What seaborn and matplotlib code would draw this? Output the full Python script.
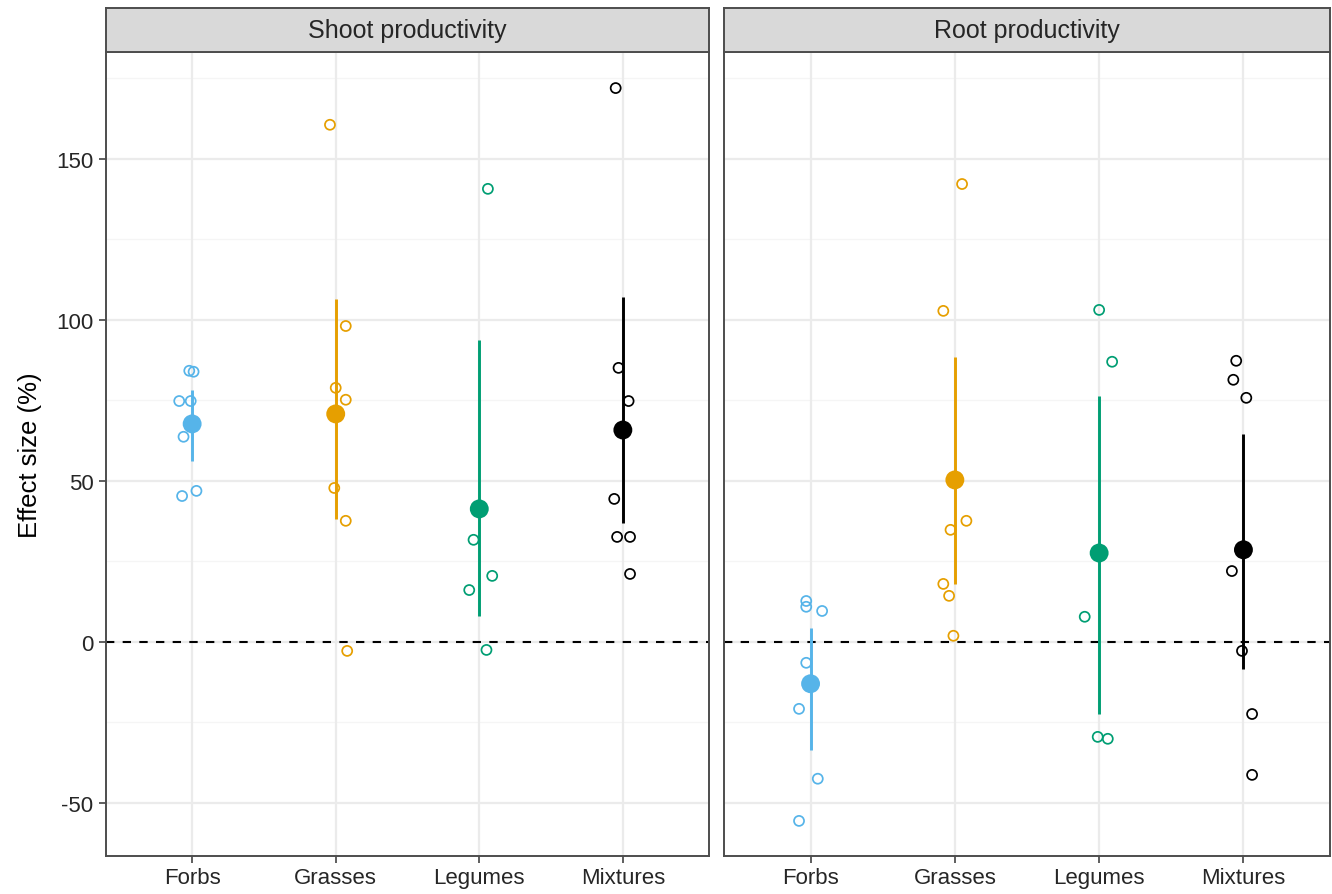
import numpy as np
import pandas as pd
import matplotlib
matplotlib.use("Agg")
import matplotlib.pyplot as plt
import seaborn as sns

sns.set_theme(style="white")
plt.rcParams["font.family"] = ["Liberation Sans", "DejaVu Sans"]

groups = ["Forbs", "Grasses", "Legumes", "Mixtures"]
facets = ["Shoot productivity", "Root productivity"]
palette = {"Forbs": "#56B4E9", "Grasses": "#E69F00", "Legumes": "#009E73", "Mixtures": "#000000"}

# Individual study effect sizes (%) with their horizontal jitter offsets
shoot_forbs = [84.2, 83.9, 74.8, 74.8, 63.7, 45.3, 46.9]
shoot_forbs_dx = [-0.02, 0.01, -0.09, -0.01, -0.06, -0.07, 0.03]
shoot_grasses = [160.6, 98.1, 78.9, 75.2, 47.8, 37.6, -2.8]
shoot_grasses_dx = [-0.04, 0.07, 0.00, 0.07, -0.01, 0.07, 0.08]
shoot_legumes = [140.7, 31.7, 20.5, 16.1, -2.5]
shoot_legumes_dx = [0.06, -0.04, 0.09, -0.07, 0.05]
shoot_mixtures = [172.0, 85.1, 74.8, 44.4, 32.6, 32.6, 21.1]
shoot_mixtures_dx = [-0.05, -0.03, 0.04, -0.06, -0.04, 0.05, 0.05]

root_forbs = [12.7, 10.9, 9.6, -6.5, -20.8, -42.5, -55.6]
root_forbs_dx = [-0.03, -0.03, 0.08, -0.03, -0.08, 0.05, -0.08]
root_grasses = [142.2, 102.8, 37.6, 34.8, 18.0, 14.3, 1.9]
root_grasses_dx = [0.05, -0.08, 0.08, -0.03, -0.08, -0.04, -0.01]
root_legumes = [103.1, 87.0, 7.8, -29.5, -30.1]
root_legumes_dx = [0.00, 0.09, -0.10, -0.01, 0.06]
root_mixtures = [87.3, 81.4, 75.8, 22.0, -2.8, -22.4, -41.3]
root_mixtures_dx = [-0.05, -0.07, 0.02, -0.08, -0.01, 0.06, 0.06]

# Overall mean effect and 95% confidence interval per group
shoot_mean = [67.7, 70.8, 41.3, 65.8]
shoot_lo = [56.2, 38.2, 8.1, 37.0]
shoot_hi = [78.3, 106.5, 93.8, 107.1]
root_mean = [-13.0, 50.3, 27.6, 28.6]
root_lo = [-33.5, 18.0, -22.4, -8.4]
root_hi = [4.3, 88.5, 76.4, 64.6]

yticks = [-50, 0, 50, 100, 150]

studies = {
    "Shoot productivity": [(shoot_forbs, shoot_forbs_dx), (shoot_grasses, shoot_grasses_dx),
                           (shoot_legumes, shoot_legumes_dx), (shoot_mixtures, shoot_mixtures_dx)],
    "Root productivity": [(root_forbs, root_forbs_dx), (root_grasses, root_grasses_dx),
                          (root_legumes, root_legumes_dx), (root_mixtures, root_mixtures_dx)],
}
summaries = {
    "Shoot productivity": (shoot_mean, shoot_lo, shoot_hi),
    "Root productivity": (root_mean, root_lo, root_hi),
}

rows = []
for facet in facets:
    for gi, (vals, dxs) in enumerate(studies[facet]):
        for v, dx in zip(vals, dxs):
            rows.append({"facet": facet, "group": groups[gi], "x": gi + dx, "effect": v})
pts = pd.DataFrame(rows)

srows = []
for facet in facets:
    m, lo, hi = summaries[facet]
    for gi, g in enumerate(groups):
        srows.append({"facet": facet, "group": g, "x": gi, "mean": m[gi], "lo": lo[gi], "hi": hi[gi]})
summ = pd.DataFrame(srows)

fig = plt.figure(figsize=(13.32, 8.95), dpi=100)
W, H = 1332, 895
panels = [(106, 709), (724, 1330)]
ptop, pbot = 53, 857
strip_top = 9

grid_major = "#EBEBEB"
grid_minor = "#F5F5F5"
border = "#4D4D4D"
text_col = "#262626"

for i, facet in enumerate(facets):
    l, r = panels[i]
    ax = fig.add_axes([l / W, (H - pbot) / H, (r - l) / W, (pbot - ptop) / H])
    ax.set_xlim(-0.6, 3.6)
    ax.set_ylim(-66.5, 183.2)

    # grid lines
    for y in [-25, 25, 75, 125, 175]:
        ax.axhline(y, color=grid_minor, lw=0.9, zorder=0)
    for y in yticks:
        ax.axhline(y, color=grid_major, lw=1.6, zorder=0)
    for xx in range(4):
        ax.axvline(xx, color=grid_major, lw=1.6, zorder=0)

    ax.axhline(0, color="black", lw=1.5, ls=(0, (4, 4)), zorder=1)

    s = summ[summ.facet == facet]
    for _, row in s.iterrows():
        ax.vlines(row["x"], row["lo"], row["hi"], color=palette[row["group"]], lw=2.1, zorder=2)
    sns.scatterplot(data=s, x="x", y="mean", hue="group", palette=palette, s=185,
                    linewidth=0, legend=False, ax=ax, zorder=3)

    p = pts[pts.facet == facet]
    for g in groups:
        sub = p[p.group == g]
        sns.scatterplot(data=sub, x="x", y="effect", s=52, facecolor="none",
                        edgecolor=palette[g], linewidth=1.25, legend=False, ax=ax, zorder=4)

    ax.set_xticks(range(4))
    ax.set_xticklabels(groups, fontsize=16, color=text_col)
    ax.set_yticks(yticks)
    if i == 0:
        ax.set_yticklabels([str(t) for t in yticks], fontsize=16, color=text_col)
        ax.set_ylabel("Effect size (%)", fontsize=18.5, color="black", labelpad=10)
    else:
        ax.set_yticklabels([])
        ax.set_ylabel("")
    ax.set_xlabel("")
    ax.tick_params(axis="x", direction="out", length=5, width=1.1, color="#333333", pad=3,
                   bottom=True)
    ax.tick_params(axis="y", direction="out", length=5, width=1.1, color="#333333", pad=4,
                   left=(i == 0))
    for sp in ax.spines.values():
        sp.set_color(border)
        sp.set_linewidth(1.4)

    # facet strip
    sax = fig.add_axes([l / W, (H - ptop) / H, (r - l) / W, (ptop - strip_top) / H])
    sax.set_facecolor("#D9D9D9")
    sax.set_xticks([])
    sax.set_yticks([])
    for sp in sax.spines.values():
        sp.set_color(border)
        sp.set_linewidth(1.4)
    sax.text(0.5, 0.5, facet, ha="center", va="center", fontsize=18, color=text_col,
             transform=sax.transAxes)

fig.savefig("out.png", dpi=100, facecolor="white")
